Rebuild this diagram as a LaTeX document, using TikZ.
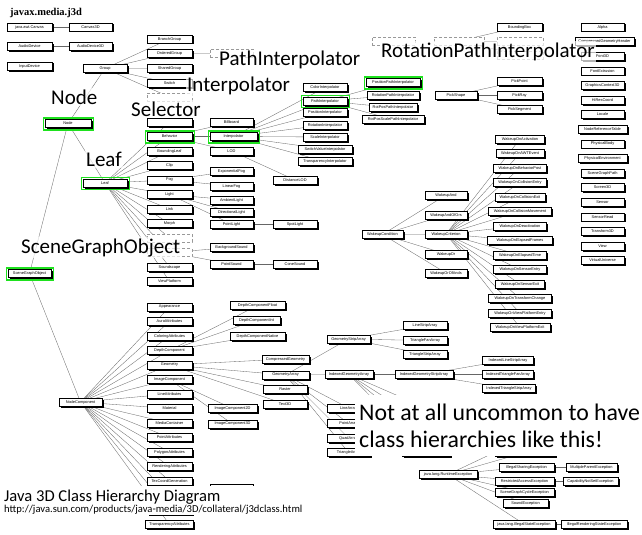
\documentclass[tikz,border=0pt]{standalone}
\usepackage{fontspec}
\setmainfont{Liberation Sans}
\newfontfamily\carlito{Carlito}
\newfontfamily\serifb{Liberation Serif}
\usetikzlibrary{shadows}
\pgfdeclarelayer{edgelayer}
\pgfdeclarelayer{labellayer}
\pgfsetlayers{edgelayer,main,labellayer}
\definecolor{hlgreen}{RGB}{30,225,30}
\tikzset{
 cls/.style={draw=black, line width=0.4pt, fill=white, minimum width=#1, minimum height=8, inner sep=0pt,
   font=\fontsize{3.9}{4.2}\selectfont,
   drop shadow={shadow xshift=1.5pt, shadow yshift=-1.5pt, opacity=1, fill=black}},
 cls/.default=44,
 hid/.style={draw=black!40, densely dashed, line width=0.4pt, fill=white, minimum width=#1, minimum height=8, inner sep=0pt},
 hid/.default=44,
 edge/.style={draw=black!60, line width=0.32pt},
 hilite/.style={draw=hlgreen, line width=1.5pt},
 biglab/.style={font=\carlito\fontsize{21}{24}\selectfont, fill=white, fill opacity=0.7, text opacity=1, inner sep=1.5pt, anchor=base west},
 plainlab/.style={inner sep=0pt, anchor=base west},
}
\begin{document}
\begin{tikzpicture}[x=1pt,y=-1pt]
\useasboundingbox (0,0) rectangle (642,535);
\begin{pgfonlayer}{edgelayer}
\fill[white] (0,0) rectangle (642,535);
\end{pgfonlayer}

\node[plainlab, font=\serifb\bfseries\fontsize{10.5}{12}\selectfont] (pkg) at (10,16) {javax.media.j3d};

% top-left
\node[cls=45] (canvas) at (29.5,27) {java.awt.Canvas};
\node[cls=43] (canvas3d) at (90.5,27) {Canvas3D};
\node[cls=45] (audiodev) at (29.5,46.5) {AudioDevice};
\node[cls=43] (audiomix) at (90.5,46.5) {AudioDevice3D};
\node[cls=45] (inputdev) at (29.5,66) {InputDevice};

\node[cls] (group) at (105,68.5) {Group};
\node[cls=46] (jnode) at (68,123.5) {Node};
\node[cls] (jleaf) at (105,183) {Leaf};
\node[cls=43] (sgo) at (29.5,273.5) {SceneGraphObject};
\node[cls=43] (nodecomp) at (80.5,402) {NodeComponent};

% group children
\node[cls=45] (branchgroup) at (169.5,39) {BranchGroup};
\node[cls=45] (orderedgroup) at (169.5,53.5) {OrderedGroup};
\node[cls=45] (sharedgroup) at (169.5,68) {SharedGroup};
\node[cls=45] (switch) at (169.5,83) {Switch};
\node[hid=45] (transformgroup) at (169.5,97) {};
\node[hid=43] (decalgroup) at (231.5,53) {};

% leaf children
\node[cls=45] (background) at (169.5,122) {};
\node[cls=45] (behavior) at (169.5,136.5) {Behavior};
\node[cls=45] (boundingleaf) at (169.5,151) {BoundingLeaf};
\node[cls=45] (clip) at (169.5,165.5) {Clip};
\node[cls=45] (fog) at (169.5,180) {Fog};
\node[cls=45] (light) at (169.5,194.5) {Light};
\node[cls=45] (link) at (169.5,209) {Link};
\node[cls=45] (morph) at (169.5,223.5) {Morph};
\node[hid=45] (shape3d) at (169.5,238) {};
\node[hid=45] (sound) at (169.5,252.5) {};
\node[cls=45] (soundscape) at (169.5,267) {Soundscape};
\node[cls=45] (viewplatform) at (169.5,281.5) {ViewPlatform};

% second level
\node[cls=43] (billboard) at (231.5,122.5) {Billboard};
\node[cls=47] (interp) at (233.5,136.5) {Interpolator};
\node[cls=43] (lod) at (231.5,151) {LOD};
\node[cls=44] (distancelod) at (295,180) {DistanceLOD};
\node[cls=43] (expfog) at (231.5,171) {ExponentialFog};
\node[cls=43] (linearfog) at (231.5,186) {LinearFog};
\node[cls=43] (ambient) at (231.5,200) {AmbientLight};
\node[cls=43] (directional) at (231.5,212) {DirectionalLight};
\node[cls=43] (pointlight) at (231.5,224) {PointLight};
\node[cls=44] (spotlight) at (295,224) {SpotLight};
\node[cls=43] (bgsound) at (231.5,247.5) {BackgroundSound};
\node[cls=43] (pointsound) at (231.5,264) {PointSound};
\node[cls=44] (conesound) at (295,264) {ConeSound};

% interpolators
\node[cls=44] (colorint) at (325,87.5) {ColorInterpolator};
\node[cls=44] (pathint) at (325,101) {PathInterpolator};
\node[cls=44] (posint) at (325,112.5) {PositionInterpolator};
\node[cls=44] (rotint) at (325,125) {RotationInterpolator};
\node[cls=44] (scaleint) at (325,137) {ScaleInterpolator};
\node[cls=54] (switchint) at (325,149) {SwitchValueInterpolator};
\node[cls=54] (transint) at (325,161.5) {TransparencyInterpolator};
\node[cls=54] (pospath) at (393,82.5) {PositionPathInterpolator};
\node[cls=52] (rotpath) at (393,95.5) {RotationPathInterpolator};
\node[cls=48] (rotpospath) at (393,107.5) {RotPosPathInterpolator};
\node[cls=62] (rotposscale) at (393,119.5) {RotPosScalePathInterpolator};

% pick / bounds
\node[cls=42] (pickshape) at (456,95) {PickShape};
\node[cls=45] (pickpoint) at (519.5,81) {PickPoint};
\node[cls=45] (pickray) at (519.5,95) {PickRay};
\node[cls=45] (pickseg) at (519.5,109) {PickSegment};
\node[cls=45] (boundingbox) at (519.5,27) {BoundingBox};
\node[hid=43] (mystery) at (393.5,41) {};
\node[hid=50] (bounds) at (459,41) {};
\node[hid=46] (bsphere) at (520,41) {};
\node[hid=46] (bpoly) at (520,55) {};

% right column
\node[cls=43] (alpha) at (602.5,27) {Alpha};
\node[cls=59] (cgheader) at (604.5,41.6) {CompressedGeometryHeader};
\node[cls=43] (font3d) at (602.5,56.2) {Font3D};
\node[cls=43] (fontext) at (602.5,70.8) {FontExtrusion};
\node[cls=43] (gc3d) at (602.5,85.4) {GraphicsContext3D};
\node[cls=43] (hires) at (602.5,100) {HiResCoord};
\node[cls=43] (locale) at (602.5,114.6) {Locale};
\node[cls=49] (noderef) at (602.5,129.2) {NodeReferenceTable};
\node[cls=43] (physbody) at (602.5,143.8) {PhysicalBody};
\node[cls=49] (physenv) at (602.5,158.4) {PhysicalEnvironment};
\node[cls=43] (sgpath) at (602.5,173) {SceneGraphPath};
\node[cls=43] (screen3d) at (602.5,187.6) {Screen3D};
\node[cls=43] (sensor) at (602.5,202.2) {Sensor};
\node[cls=43] (sensorread) at (602.5,216.8) {SensorRead};
\node[cls=43] (transform3d) at (602.5,231.4) {Transform3D};
\node[cls=43] (view) at (602.5,246) {View};
\node[cls=43] (vu) at (602.5,260.6) {VirtualUniverse};

% wakeup
\node[cls=41] (wcond) at (382.5,234.5) {WakeupCondition};
\node[cls=42] (wand) at (446,195) {WakeupAnd};
\node[cls=42] (wandofors) at (446,215) {WakeupAndOfOrs};
\node[cls=42] (wcrit) at (446,234) {WakeupCriterion};
\node[cls=42] (wor) at (446,254) {WakeupOr};
\node[cls=42] (worofands) at (446,273) {WakeupOrOfAnds};
\foreach \n/\y/\w/\t in {
  wa/139/49/WakeupOnActivation,
  wb/153.5/48/WakeupOnAWTEvent,
  wc/168/53/WakeupOnBehaviorPost,
  wd/182.5/53/WakeupOnCollisionEntry,
  we/197/50/WakeupOnCollisionExit,
  wf/211.5/63/WakeupOnCollisionMovement,
  wg/226/53/WakeupOnDeactivation,
  wh/240.5/65/WakeupOnElapsedFrames,
  wi/255/53/WakeupOnElapsedTime,
  wj/269.5/53/WakeupOnSensorEntry,
  wk/284/49/WakeupOnSensorExit,
  wl/298.5/63/WakeupOnTransformChange,
  wm/313/63/WakeupOnViewPlatformEntry,
  wn/327.5/60/WakeupOnViewPlatformExit}
  \node[cls=\w] (\n) at (520,\y) {\t};

% node components
\foreach \n/\y/\t in {
  appearance/307/Appearance,
  aural/321.5/AuralAttributes,
  coloring/336/ColoringAttributes,
  depthcomp/350.5/DepthComponent,
  geometry/365/Geometry,
  imagecomp/379.5/ImageComponent,
  lineattr/394/LineAttributes,
  material/408.5/Material,
  mediacont/423/MediaContainer,
  pointattr/437.5/PointAttributes,
  polyattr/452/PolygonAttributes,
  renderattr/466.5/RenderingAttributes,
  texcoord/481/TexCoordGeneration}
  \node[cls=45] (\n) at (169.5,\y) {\t};
\node[cls=45] (texture) at (169.5,495.5) {};
\node[cls=45] (texattr) at (169.5,510) {};
\node[cls=48] (transpattr) at (169.5,524.5) {TransparencyAttributes};

\node[cls=55] (dcfloat) at (257.5,305.5) {DepthComponentFloat};
\node[cls=47] (dcint) at (256.5,320) {DepthComponentInt};
\node[cls=55] (dcnative) at (257.5,336) {DepthComponentNative};
\node[cls=47] (compressed) at (285.5,359) {CompressedGeometry};
\node[cls=47] (geomarray) at (285.5,375) {GeometryArray};
\node[cls=44] (raster) at (285,389.5) {Raster};
\node[cls=44] (text3d) at (285,404) {Text3D};
\node[cls=49] (ic2d) at (232.5,408.5) {ImageComponent2D};
\node[cls=49] (ic3d) at (232.5,424) {ImageComponent3D};
\node[cls=43] (tex2d) at (231.5,488) {};
\node[cls=43] (tex3d) at (231.5,502.5) {};

\node[cls=43] (gsa) at (348.5,339) {GeometryStripArray};
\node[cls=44] (lsa) at (425,325.5) {LineStripArray};
\node[cls=44] (tfa) at (425,340.5) {TriangleFanArray};
\node[cls=44] (tsa) at (425,354) {TriangleStripArray};
\node[cls=48] (iga) at (349,374.5) {IndexedGeometryArray};
\node[cls=58] (igsa) at (424,374.5) {IndexedGeometryStripArray};
\node[cls=51] (ilsa) at (508,360) {IndexedLineStripArray};
\node[cls=51] (itfa) at (508,374.5) {IndexedTriangleFanArray};
\node[cls=53] (itsa) at (509,388.5) {IndexedTriangleStripArray};
\node[cls=43] (linearray) at (348.5,408) {LineArray};
\node[cls=43] (pointarray) at (348.5,423.5) {PointArray};
\node[cls=43] (quadarray) at (348.5,438) {QuadArray};
\node[cls=43] (trianglearray) at (348.5,452.5) {TriangleArray};
\node[cls=48] (ila) at (426,408) {};
\node[cls=48] (ipa) at (426,423.5) {};
\node[cls=48] (iqa) at (426,438) {};
\node[cls=48] (ita) at (426,452.5) {};

% exceptions
\node[cls=58] (rte) at (448,474.5) {java.lang.RuntimeException};
\node[cls=60] (dangling) at (525,438) {};
\node[cls=60] (badtrans) at (525,452.5) {};
\node[cls=55] (illshare) at (526.5,467) {IllegalSharingException};
\node[cls=51] (multparent) at (591.5,467) {MultipleParentException};
\node[cls=59] (restricted) at (524.5,481) {RestrictedAccessException};
\node[cls=55] (capability) at (590.5,481) {CapabilityNotSetException};
\node[cls=59] (sgcycle) at (524.5,492) {SceneGraphCycleException};
\node[cls=45] (soundexc) at (525.5,503.5) {SoundException};
\node[cls=62] (ise) at (524,524) {java.lang.IllegalStateException};
\node[cls=66] (irse) at (594,524) {IllegalRenderingStateException};

% edges
\begin{pgfonlayer}{edgelayer}
\foreach \a/\b in {canvas/canvas3d, audiodev/audiomix,
  sgo/jnode, sgo/nodecomp, jnode/group, jnode/jleaf,
  group/branchgroup, group/orderedgroup, group/sharedgroup, group/switch, group/transformgroup, orderedgroup/decalgroup,
  jleaf/background, jleaf/behavior, jleaf/boundingleaf, jleaf/clip, jleaf/fog, jleaf/light, jleaf/link, jleaf/morph, jleaf/shape3d, jleaf/sound, jleaf/soundscape, jleaf/viewplatform,
  behavior/billboard, behavior/interp, behavior/lod, lod/distancelod, fog/expfog, fog/linearfog,
  light/ambient, light/directional, light/pointlight, pointlight/spotlight,
  sound/bgsound, sound/pointsound, pointsound/conesound,
  interp/colorint, interp/pathint, interp/posint, interp/rotint, interp/scaleint, interp/switchint, interp/transint,
  pathint/pospath, pathint/rotpath, pathint/rotpospath, pathint/rotposscale,
  pickshape/pickpoint, pickshape/pickray, pickshape/pickseg,
  bounds/boundingbox, bounds/bsphere, bounds/bpoly,
  wcond/wand, wcond/wandofors, wcond/wcrit, wcond/wor, wcond/worofands,
  wcrit/wa, wcrit/wb, wcrit/wc, wcrit/wd, wcrit/we, wcrit/wf, wcrit/wg, wcrit/wh, wcrit/wi, wcrit/wj, wcrit/wk, wcrit/wl, wcrit/wm, wcrit/wn,
  nodecomp/appearance, nodecomp/aural, nodecomp/coloring, nodecomp/depthcomp, nodecomp/geometry, nodecomp/imagecomp, nodecomp/lineattr, nodecomp/material, nodecomp/mediacont, nodecomp/pointattr, nodecomp/polyattr, nodecomp/renderattr, nodecomp/texcoord, nodecomp/texture, nodecomp/texattr, nodecomp/transpattr,
  depthcomp/dcfloat, depthcomp/dcint, depthcomp/dcnative,
  geometry/compressed, geometry/geomarray, geometry/raster, geometry/text3d,
  imagecomp/ic2d, imagecomp/ic3d, texture/tex2d, texture/tex3d,
  geomarray/gsa, geomarray/iga, geomarray/linearray, geomarray/pointarray, geomarray/quadarray, geomarray/trianglearray,
  gsa/lsa, gsa/tfa, gsa/tsa,
  iga/igsa, iga/ila, iga/ipa, iga/iqa, iga/ita,
  igsa/ilsa, igsa/itfa, igsa/itsa,
  rte/dangling, rte/badtrans, rte/illshare, rte/restricted, rte/sgcycle, rte/soundexc, rte/ise,
  illshare/multparent, restricted/capability, ise/irse}
  \draw[edge] (\a.center) -- (\b.center);
\end{pgfonlayer}

% overlay labels
\begin{pgfonlayer}{labellayer}
% green highlights
\foreach \h in {jnode,jleaf,sgo,behavior,interp,pathint,pospath}
  \draw[hilite] ([xshift=-1.3pt,yshift=1.3pt]\h.north west) rectangle ([xshift=2.4pt,yshift=-2.4pt]\h.south east);

\node[biglab] (lnode) at (49.5,104) {Node};
\node[biglab] (lleaf) at (84.5,166) {Leaf};
\node[biglab] (lsel) at (129.5,116) {Selector};
\node[biglab] (linterp) at (185.5,92) {Interpolator};
\node[biglab] (lpath) at (217.5,66) {PathInterpolator};
\node[biglab] (lrotpath) at (379.5,57) {RotationPathInterpolator};
\node[biglab] (lsgo) at (19.5,253) {SceneGraphObject};

\fill[white] (355,395) rectangle (642,455.5);
\node[plainlab, font=\carlito\fontsize{23.8}{27}\selectfont] (note1) at (359,420) {Not at all uncommon to have};
\node[plainlab, font=\carlito\fontsize{23.8}{27}\selectfont] (note2) at (359,447.3) {class hierarchies like this!};

\fill[white] (0,486) rectangle (310,514.5);
\node[plainlab, font=\carlito\fontsize{16.6}{18}\selectfont] (ttl) at (4,501) {Java 3D Class Hierarchy Diagram};
\node[plainlab, font=\carlito\fontsize{10.6}{12}\selectfont] (url) at (4,512) {http://java.sun.com/products/java-media/3D/collateral/j3dclass.html};
\end{pgfonlayer}
\end{tikzpicture}
\end{document}
